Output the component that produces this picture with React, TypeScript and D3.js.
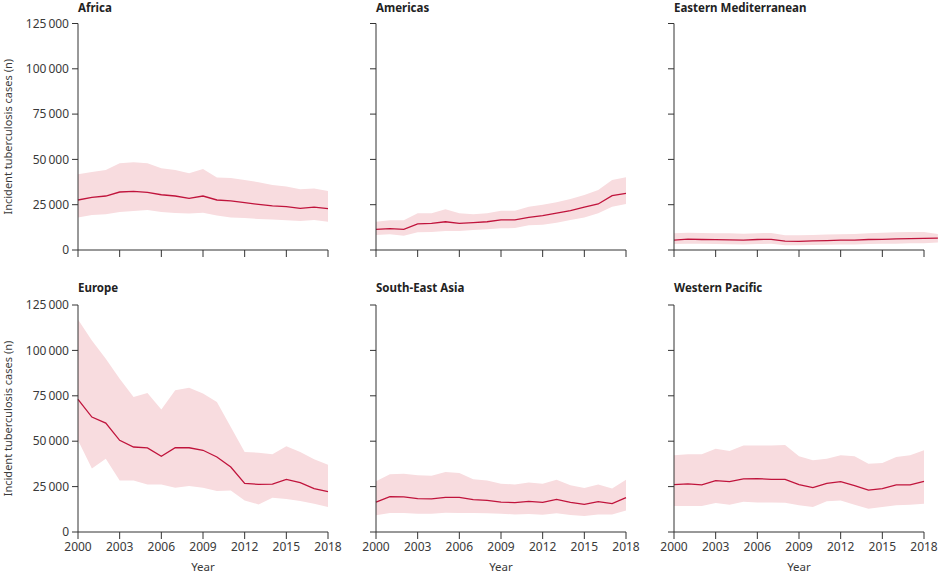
import * as d3 from 'd3';

const years = d3.range(2000, 2019);
const yearsEMed = d3.range(2000, 2020);
const xTicks = [2000, 2003, 2006, 2009, 2012, 2015, 2018];
const yTicks = [0, 25000, 50000, 75000, 100000, 125000];

const africaMid = [27600, 29100, 29800, 32000, 32400, 31800, 30500, 29800, 28500, 29800, 27600, 27100, 26100, 25200, 24300, 23900, 23000, 23700, 22800];
const africaHi = [41800, 43100, 44200, 47900, 48400, 47900, 45100, 44200, 42300, 44700, 40000, 39800, 38700, 37400, 35900, 35000, 33500, 33900, 32600];
const africaLo = [18000, 19300, 19700, 21000, 21500, 22100, 21000, 20400, 20200, 20600, 19100, 18000, 17700, 17100, 16800, 16400, 16000, 16600, 15600];

const americasMid = [11400, 11800, 11400, 14400, 14700, 15600, 14700, 15100, 15600, 16600, 16600, 18000, 19000, 20300, 21700, 23600, 25400, 30000, 31300];
const americasHi = [15600, 16400, 16400, 20300, 20300, 22500, 20300, 19700, 20300, 21700, 21700, 23900, 25000, 26300, 28200, 30400, 33100, 38700, 40100];
const americasLo = [8300, 8700, 7900, 9800, 9900, 10500, 10500, 11000, 11400, 12000, 12100, 13600, 14000, 15100, 16600, 18000, 20300, 23900, 25400];

const emedMid = [5500, 6000, 5800, 5700, 5600, 5500, 5800, 5900, 4900, 4800, 5000, 5200, 5400, 5500, 5800, 5900, 6100, 6300, 6400, 6500];
const emedHi = [9200, 9500, 9400, 9300, 9200, 9000, 9300, 9400, 8100, 8100, 8300, 8500, 8700, 8800, 9200, 9500, 9800, 10000, 10000, 8800];
const emedLo = [3300, 3500, 3400, 3300, 3200, 3100, 3300, 3400, 2600, 2600, 2700, 2900, 3000, 3100, 3300, 3400, 3500, 3700, 3700, 4200];

const europeMid = [73000, 63300, 60000, 50500, 46800, 46300, 41700, 46400, 46400, 45000, 41300, 35800, 26800, 26200, 26400, 29000, 27200, 23900, 22200];
const europeHi = [117000, 105500, 95400, 84400, 74300, 76500, 67500, 78000, 79500, 76200, 71600, 57800, 44100, 43700, 42800, 47200, 44100, 40000, 37100];
const europeLo = [50500, 34900, 40400, 28400, 28400, 26200, 26200, 24400, 25300, 24400, 22600, 22900, 17400, 15200, 18900, 18200, 17100, 15600, 13800];

const seaMid = [16500, 19500, 19300, 18400, 18200, 19100, 19100, 17800, 17400, 16500, 16200, 16900, 16300, 18000, 16300, 15200, 16700, 15600, 18900];
const seaHi = [27900, 31800, 32100, 31200, 31000, 33000, 32500, 29000, 28400, 26600, 26200, 27300, 26600, 28800, 25700, 24200, 26200, 23900, 28800];
const seaLo = [9200, 10500, 10500, 10100, 10100, 10600, 10500, 10500, 10300, 10100, 9700, 9900, 9500, 10300, 9400, 8800, 9700, 9700, 11900];

const wpacMid = [26100, 26500, 25900, 28300, 27700, 29200, 29400, 29000, 29000, 26100, 24400, 26800, 27700, 25500, 23100, 23900, 25900, 25900, 27900];
const wpacHi = [42200, 42800, 42800, 45900, 44600, 47700, 47700, 47700, 47900, 41700, 39500, 40400, 42200, 41700, 37600, 38000, 41300, 42200, 45000];
const wpacLo = [14300, 14300, 14300, 16000, 15000, 16700, 16300, 16300, 16100, 14700, 13800, 16900, 17400, 15000, 12800, 13800, 14700, 15000, 15600];

const panels = [
  { title: 'Africa', yrs: years, mid: africaMid, hi: africaHi, lo: africaLo },
  { title: 'Americas', yrs: years, mid: americasMid, hi: americasHi, lo: americasLo },
  { title: 'Eastern Mediterranean', yrs: yearsEMed, mid: emedMid, hi: emedHi, lo: emedLo },
  { title: 'Europe', yrs: years, mid: europeMid, hi: europeHi, lo: europeLo },
  { title: 'South-East Asia', yrs: years, mid: seaMid, hi: seaHi, lo: seaLo },
  { title: 'Western Pacific', yrs: years, mid: wpacMid, hi: wpacHi, lo: wpacLo },
];

const W = 939;
const H = 573;
const font = "'Noto Sans', 'Open Sans', sans-serif";
const textColor = '#3a3a3a';
const lineColor = '#c0143c';
const bandColor = '#f8dcdf';

const colX = [78, 376, 674];
const plotW = 250;
const rowY = [{ top: 23.5, bottom: 250 }, { top: 305, bottom: 532 }];

// thin space as thousands separator, like the journal style
const fmt = (v: number) => (v >= 1000 ? d3.format(',')(v).replace(/,/g, '\u2009') : String(v));

function Panel({ p, col, row }: { p: typeof panels[number]; col: number; row: number }) {
  const x0 = colX[col];
  const { top, bottom } = rowY[row];
  const x = d3.scaleLinear().domain([2000, 2018]).range([x0, x0 + plotW]);
  const y = d3.scaleLinear().domain([0, 125000]).range([bottom, top]);
  const idx = d3.range(p.yrs.length);
  const area = d3.area<number>().x(i => x(p.yrs[i])).y0(i => y(p.lo[i])).y1(i => y(p.hi[i]));
  const line = d3.line<number>().x(i => x(p.yrs[i])).y(i => y(p.mid[i]));
  return (
    <g>
      <text x={x0} y={row === 0 ? 11.5 : 292} fontSize={11.5} fontWeight="bold" fill="#222" fontFamily={font}>{p.title}</text>
      <path d={area(idx) || ''} fill={bandColor} />
      <path d={line(idx) || ''} fill="none" stroke={lineColor} strokeWidth={1.3} />
      <line x1={x0} x2={x0} y1={top} y2={bottom} stroke="#333" strokeWidth={1} />
      <line x1={x0} x2={x0 + plotW} y1={bottom} y2={bottom} stroke="#333" strokeWidth={1} />
      {yTicks.map(t => (
        <g key={t}>
          <line x1={x0 - 6} x2={x0} y1={y(t)} y2={y(t)} stroke="#333" strokeWidth={1} />
          {col === 0 && (
            <text x={x0 - 9} y={y(t)} dy="0.35em" textAnchor="end" fontSize={12} fill={textColor} fontFamily={font}>{fmt(t)}</text>
          )}
        </g>
      ))}
      {xTicks.map(t => (
        <g key={t}>
          <line x1={x(t)} x2={x(t)} y1={bottom} y2={bottom + 7} stroke="#333" strokeWidth={1} />
          {row === 1 && (
            <text x={x(t)} y={bottom + 19} textAnchor="middle" fontSize={12} fill={textColor} fontFamily={font}>{t}</text>
          )}
        </g>
      ))}
      {row === 1 && (
        <text x={x0 + plotW / 2} y={571} textAnchor="middle" fontSize={11.5} fill={textColor} fontFamily={font}>Year</text>
      )}
      {col === 0 && (
        <text transform={`translate(12,${(top + bottom) / 2}) rotate(-90)`} textAnchor="middle" fontSize={11} fill={textColor} fontFamily={font}>Incident tuberculosis cases (n)</text>
      )}
    </g>
  );
}

export default function App() {
  return (
    <svg width={W} height={H} style={{ position: 'absolute', left: 0, top: 0, background: '#fff' }}>
      {panels.map((p, i) => (
        <Panel key={p.title} p={p} col={i % 3} row={Math.floor(i / 3)} />
      ))}
    </svg>
  );
}
